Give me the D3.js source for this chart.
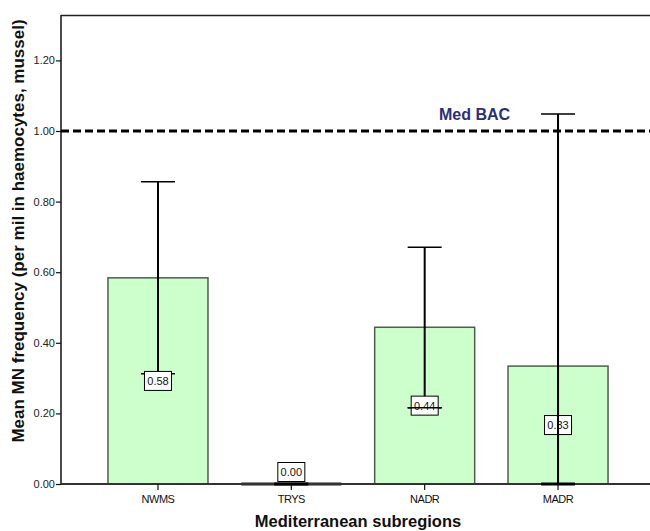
<!DOCTYPE html>
<html><head><meta charset="utf-8">
<script src="https://cdn.jsdelivr.net/npm/d3@7"></script>
<style>body{margin:0;background:#fff}svg{display:block}text{font-family:Arial,"Liberation Sans",sans-serif}</style>
</head><body><svg id="c" width="650" height="531"></svg>
<script>
const categories = ["NWMS","TRYS","NADR","MADR"];
const means = [0.584, 0.0, 0.444, 0.334];
const labels = ["0.58","0.00","0.44","0.33"];
const errLow = [0.312, 0.0, 0.216, 0.0];
const errHigh = [0.856, 0.0, 0.671, 1.048];
const yTicks = [0,0.2,0.4,0.6,0.8,1.0,1.2];
const refValue = 1.0;
const refLabel = "Med BAC";

const svg = d3.select("#c");
const L=61, R=652, T=15, B=484;
const y = d3.scaleLinear().domain([0,1.3286]).range([B,T]);
const x = d3.scaleBand().domain(categories).range([91.3,624.7]).paddingInner(0.25).paddingOuter(0.125);

// frame
svg.append("line").attr("x1",L).attr("x2",R).attr("y1",T+0.5).attr("y2",T+0.5).attr("stroke","#222").attr("stroke-width",1.5);

// bars
svg.selectAll("rect.bar").data(categories).join("rect")
  .attr("x",d=>x(d)).attr("width",x.bandwidth())
  .attr("y",(d,i)=>y(means[i])).attr("height",(d,i)=>B-y(means[i]))
  .attr("fill","#ccffcc").attr("stroke","#4d5e4d").attr("stroke-width",1.5);

// zero bar line
categories.forEach((d,i)=>{ if(means[i]===0){ svg.append("line").attr("x1",x(d)).attr("x2",x(d)+x.bandwidth()).attr("y1",B).attr("y2",B).attr("stroke","#222").attr("stroke-width",3);} });

// axes
const yAxis = d3.axisLeft(y).tickValues(yTicks).tickFormat(d3.format(".2f")).tickSize(5).tickSizeOuter(0);
const gy = svg.append("g").attr("transform",`translate(${L},0)`).call(yAxis);
gy.select(".domain").attr("d",`M0,${T}V${B}`).attr("stroke","#111").attr("stroke-width",1.5);
gy.selectAll(".tick line").attr("stroke","#111").attr("stroke-width",1.2);
gy.selectAll(".tick text").attr("font-size",11).attr("fill","#222").attr("font-family","Arial,'Liberation Sans',sans-serif").attr("x",-6);

const xAxis = d3.axisBottom(x).tickSize(6).tickSizeOuter(0);
const gx = svg.append("g").attr("transform",`translate(0,${B})`).call(xAxis);
gx.select(".domain").attr("d",`M${L},0H${R}`).attr("stroke","#333").attr("stroke-width",1.8);
gx.selectAll(".tick line").attr("stroke","#111").attr("stroke-width",1.2);
gx.selectAll(".tick text").attr("font-size",11).attr("fill","#111").attr("dy","0.95em").attr("letter-spacing","-0.5").attr("font-family","Arial,'Liberation Sans',sans-serif");

// reference line
svg.append("line").attr("x1",L).attr("x2",R).attr("y1",y(refValue)).attr("y2",y(refValue))
  .attr("stroke","#000").attr("stroke-width",3).attr("stroke-dasharray","8,4");
svg.append("text").attr("x",439).attr("y",y(refValue)-11).attr("font-size",16).attr("font-weight","bold").attr("fill","#2b2f7a").text(refLabel);

// error bars
const cap = 34;
categories.forEach((d,i)=>{
  const cx = x(d)+x.bandwidth()/2;
  const g = svg.append("g").attr("stroke","#000").attr("stroke-width",2);
  g.append("line").attr("x1",cx).attr("x2",cx).attr("y1",y(errLow[i])).attr("y2",y(errHigh[i]));
  g.append("line").attr("x1",cx-cap/2).attr("x2",cx+cap/2).attr("y1",y(errHigh[i])).attr("y2",y(errHigh[i])).attr("stroke-width",1.5);
  g.append("line").attr("x1",cx-cap/2).attr("x2",cx+cap/2).attr("y1",y(errLow[i])).attr("y2",y(errLow[i])).attr("stroke-width",errLow[i]===0?3:1.5);
});

// value labels
categories.forEach((d,i)=>{
  const cx = x(d)+x.bandwidth()/2;
  const cy = means[i]===0 ? B-12 : y(means[i]/2);
  const g = svg.append("g").attr("transform",`translate(${cx},${cy})`);
  g.append("rect").attr("x",-13.5).attr("y",-9.5).attr("width",27).attr("height",19).attr("fill","#fff").attr("stroke","#000").attr("stroke-width",1);
  g.append("text").attr("text-anchor","middle").attr("dy","0.36em").attr("font-size",11).attr("fill","#111").text(labels[i]);
});
// error bar strokes that sit over the labels in the reference
categories.forEach((d,i)=>{
  if(i===2||i===3){
    const cx = x(d)+x.bandwidth()/2;
    const g = svg.append("g").attr("stroke","#000");
    if(i===3) g.append("line").attr("x1",cx).attr("x2",cx).attr("y1",y(errLow[i])).attr("y2",y(errHigh[i])).attr("stroke-width",2);
    if(i===2) g.append("line").attr("x1",cx-cap/2).attr("x2",cx+cap/2).attr("y1",y(errLow[i])).attr("y2",y(errLow[i])).attr("stroke-width",1.5);
  }
});

// axis titles
svg.append("text").attr("x",358).attr("y",527).attr("text-anchor","middle").attr("font-size",16.5).attr("font-weight","bold").attr("fill","#111").text("Mediterranean subregions");
svg.append("text").attr("transform","translate(24,231) rotate(-90)").attr("text-anchor","middle").attr("font-size",17).attr("font-weight","bold").attr("fill","#111").text("Mean MN frequency (per mil in haemocytes, mussel)");
</script></body></html>
